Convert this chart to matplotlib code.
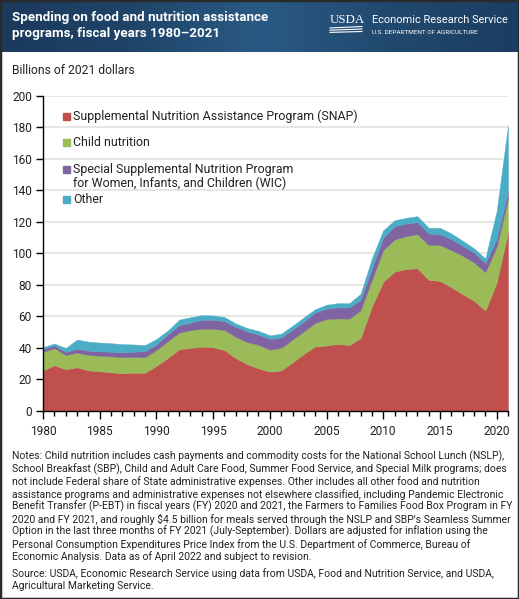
import numpy as np
import matplotlib.pyplot as plt
from matplotlib.patches import Rectangle
from matplotlib.colors import LinearSegmentedColormap
from matplotlib.ticker import MultipleLocator

plt.rcParams["font.family"] = ["Roboto", "DejaVu Sans"]

W, H = 519, 599

# spending, billions of 2021 dollars
years = list(range(1980, 2022))
snap = [25.8, 29.0, 26.5, 27.7, 25.8, 25.2, 24.5, 23.9, 24.3, 24.2,
        28.7, 33.6, 39.1, 40.0, 40.8, 40.4, 38.6, 33.5, 29.7, 27.0,
        25.0, 25.7, 30.9, 36.2, 41.0, 41.5, 42.5, 41.8, 46.3, 66.3,
        82.1, 88.4, 90.1, 90.5, 83.2, 82.5, 78.5, 74.1, 69.9, 63.8,
        81.5, 113.7]
child = [11.7, 10.8, 9.0, 9.3, 9.8, 9.8, 10.2, 10.2, 10.0, 9.9,
         10.0, 10.6, 10.6, 11.2, 11.4, 11.8, 12.7, 13.5, 14.0, 15.0,
         13.9, 14.3, 14.4, 14.3, 14.8, 16.8, 16.2, 16.8, 17.5, 16.9,
         20.0, 20.4, 20.8, 21.7, 22.1, 22.8, 23.6, 24.4, 24.4, 24.2,
         22.7, 21.0]
wic = [1.8, 1.8, 2.0, 2.5, 2.7, 2.8, 2.9, 3.2, 3.3, 3.8,
       3.6, 4.4, 4.8, 4.8, 5.7, 5.7, 5.7, 6.4, 6.8, 6.5,
       6.8, 6.7, 6.3, 6.3, 6.7, 6.7, 7.0, 7.1, 6.7, 7.7,
       7.8, 8.5, 8.0, 7.6, 7.3, 6.9, 6.9, 6.3, 6.3, 5.7,
       4.8, 5.3]
other = [1.2, 1.2, 2.4, 5.8, 5.7, 5.6, 5.4, 5.1, 4.6, 3.9,
         3.4, 2.4, 3.4, 3.5, 2.9, 2.7, 2.6, 2.1, 2.1, 2.3,
         2.3, 2.3, 2.5, 2.6, 2.1, 2.4, 2.7, 2.7, 3.8, 6.0,
         4.8, 3.7, 3.6, 3.8, 3.6, 4.0, 3.6, 3.2, 2.6, 3.1,
         17.9, 41.0]

labels = ["Supplemental Nutrition Assistance Program (SNAP)",
          "Child nutrition",
          "Special Supplemental Nutrition Program\nfor Women, Infants, and Children (WIC)",
          "Other"]
colors = ["#c0504d", "#9bbb59", "#8064a2", "#4bacc6"]

notes = [
    "Notes: Child nutrition includes cash payments and commodity costs for the National School Lunch (NSLP),",
    "School Breakfast (SBP), Child and Adult Care Food, Summer Food Service, and Special Milk programs; does",
    "not include Federal share of State administrative expenses. Other includes all other food and nutrition",
    "assistance programs and administrative expenses not elsewhere classified, including Pandemic Electronic",
    "Benefit Transfer (P-EBT) in fiscal years (FY) 2020 and 2021, the Farmers to Families Food Box Program in FY",
    "2020 and FY 2021, and roughly $4.5 billion for meals served through the NSLP and SBP's Seamless Summer",
    "Option in the last three months of FY 2021 (July-September). Dollars are adjusted for inflation using the",
    "Personal Consumption Expenditures Price Index from the U.S. Department of Commerce, Bureau of",
    "Economic Analysis. Data as of April 2022 and subject to revision.",
]
source = [
    "Source: USDA, Economic Research Service using data from USDA, Food and Nutrition Service, and USDA,",
    "Agricultural Marketing Service.",
]


def fx(px):
    return px / W


def fy(py):
    return 1 - py / H


fig = plt.figure(figsize=(W / 100, H / 100), dpi=100)

# header banner
hb = fig.add_axes([0, fy(52), 1, 52 / H])
cmap = LinearSegmentedColormap.from_list(
    "hdr", ["#1b3a5c", "#1f4468", "#2a5a84", "#21496f", "#1c3d62"])
hb.imshow(np.linspace(0, 1, 256)[None, :], aspect="auto", cmap=cmap,
          extent=[0, 1, 0, 1])
hb.set_axis_off()

fig.text(fx(12), fy(17), "Spending on food and nutrition assistance",
         color="white", fontsize=9.6, fontweight="bold", va="center")
fig.text(fx(12), fy(34), "programs, fiscal years 1980\u20132021",
         color="white", fontsize=9.6, fontweight="bold", va="center")
fig.text(fx(330), fy(20), "USDA", color="white", fontsize=9.3,
         family="Liberation Serif", va="center")
for i in range(3):
    fig.add_artist(plt.Line2D([fx(330), fx(362)],
                              [fy(28 + 2.2 * i), fy(26.5 + 2.5 * i)],
                              color="white", lw=0.8))
fig.text(fx(372), fy(20), "Economic Research Service", color="white",
         fontsize=7.9, va="center")
fig.text(fx(372), fy(33), "U.S. DEPARTMENT OF AGRICULTURE", color="white",
         fontsize=4.6, va="center")

fig.text(fx(12), fy(70), "Billions of 2021 dollars", fontsize=8.7,
         va="center", color="#222222")

# main chart
ax = fig.add_axes([fx(43), fy(411), 465 / W, (411 - 95.7) / H])
ax.stackplot(years, snap, child, wic, other, colors=colors,
             edgecolor="face", linewidth=0.3, zorder=2)
ax.set_xlim(1980, 2021)
ax.set_ylim(0, 200)
ax.yaxis.set_major_locator(MultipleLocator(20))
ax.xaxis.set_major_locator(MultipleLocator(5))
ax.xaxis.set_minor_locator(MultipleLocator(1))
ax.grid(axis="y", color="#e2e2e2", lw=1.2, zorder=0)
ax.set_axisbelow(True)
for s in ["top", "right"]:
    ax.spines[s].set_visible(False)
for s in ["left", "bottom"]:
    ax.spines[s].set_linewidth(1.0)
    ax.spines[s].set_zorder(5)
ax.tick_params(axis="y", length=5, width=1, labelsize=8.6, pad=3,
               labelcolor="#222222")
ax.tick_params(axis="x", which="major", length=6, width=1, labelsize=8.6,
               pad=4, labelcolor="#222222")
ax.tick_params(axis="x", which="minor", length=3.5, width=1)

# legend, drawn by hand to keep the reference spacing
leg_y = [116.7, 142.7, 169, 199.5]
for lab, col, yy in zip(labels, colors, leg_y):
    fig.add_artist(Rectangle((fx(63), fy(yy + 3.5)), 7 / W, 7 / H,
                             transform=fig.transFigure, color=col))
    for k, part in enumerate(lab.split("\n")):
        fig.text(fx(73), fy(yy + 14 * k), part, fontsize=8.9,
                 va="center", color="#222222")

# notes
for i, line in enumerate(notes):
    fig.text(fx(12), fy(456.7 + 12.5 * i), line, fontsize=7.45,
             va="center", color="#222222")
for i, line in enumerate(source):
    fig.text(fx(12), fy(573.3 + 12.4 * i), line, fontsize=7.45,
             va="center", color="#222222")

fig.add_artist(Rectangle((0, 0), 1, 1, transform=fig.transFigure,
                         fill=False, edgecolor="#2a2a2a", lw=2.5))

fig.savefig("out.png", dpi=100)
